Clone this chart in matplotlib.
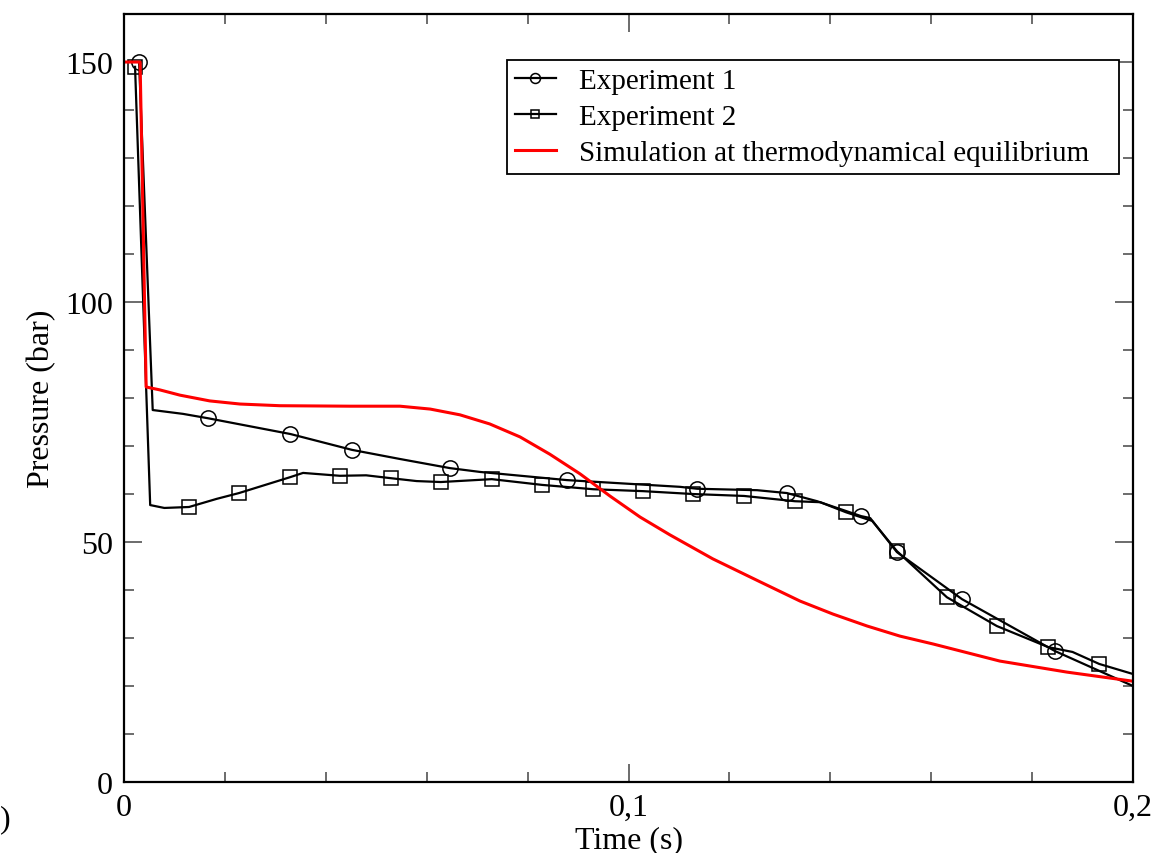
import matplotlib
matplotlib.use('Agg')
import matplotlib.pyplot as plt
from matplotlib.ticker import MultipleLocator

#experiment 1 (line points, circles drawn on a subset)
exp1_t = [0.0030, 0.0057, 0.0117, 0.0166, 0.0330, 0.0452, 0.0547, 0.0646, 0.0706,
          0.0878, 0.1102, 0.1136, 0.1255, 0.1314, 0.1374, 0.1461, 0.1479, 0.1532,
          0.1661, 0.1845, 0.2000]
exp1_p = [150.0, 77.5, 76.7, 75.8, 72.5, 69.2, 67.3, 65.4, 64.6,
          62.9, 61.5, 61.1, 60.8, 60.2, 58.5, 55.4, 55.0, 47.9,
          38.1, 27.3, 20.0]
exp1_marks = [0, 3, 4, 5, 7, 9, 11, 13, 15, 17, 18, 19]

#experiment 2 (line points, squares drawn on a subset)
exp2_t = [0.0022, 0.0052, 0.0080, 0.0129, 0.0184, 0.0228, 0.0329, 0.0355, 0.0428,
          0.0480, 0.0529, 0.0580, 0.0628, 0.0729, 0.0829, 0.0930, 0.1029, 0.1128,
          0.1229, 0.1330, 0.1380, 0.1431, 0.1483, 0.1532, 0.1631, 0.1730, 0.1832,
          0.1880, 0.1933, 0.2000]
exp2_p = [149.0, 57.7, 57.1, 57.3, 59.0, 60.2, 63.5, 64.4, 63.8,
          63.9, 63.3, 62.7, 62.5, 63.1, 61.9, 61.0, 60.6, 60.0,
          59.6, 58.5, 58.3, 56.2, 54.4, 48.1, 38.5, 32.5, 28.1,
          27.1, 24.6, 22.5]
exp2_marks = [0, 3, 5, 6, 8, 10, 12, 13, 14, 15, 16, 17, 18, 19, 21, 23, 24, 25, 26, 28]

#simulation at thermodynamical equilibrium
sim_t = [0.0, 0.0032, 0.0044, 0.0071, 0.0111, 0.0170, 0.0230, 0.0309, 0.0448,
         0.0547, 0.0607, 0.0666, 0.0725, 0.0785, 0.0844, 0.0904, 0.0963, 0.1023,
         0.1082, 0.1167, 0.1261, 0.1340, 0.1405, 0.1473, 0.1538, 0.1604, 0.1736,
         0.1869, 0.2000]
sim_p = [150.0, 150.0, 82.3, 81.7, 80.6, 79.4, 78.75, 78.4, 78.3,
         78.3, 77.7, 76.5, 74.6, 71.9, 68.3, 64.2, 59.6, 55.2,
         51.5, 46.5, 41.7, 37.7, 35.0, 32.5, 30.4, 28.75, 25.2,
         22.9, 21.0]

x_ticks = [0, 0.1, 0.2]
x_labels = ['0', '0,1', '0,2']
y_ticks = [0, 50, 100, 150]

plt.rcParams['font.family'] = ['Liberation Serif', 'DejaVu Serif']

fig = plt.figure(figsize=(11.53, 8.54), dpi=100)
ax = fig.add_axes([0.1075, 0.0831, 0.8752, 0.8993])

ax.plot(exp1_t, exp1_p, color='black', lw=1.6, marker='o', ms=11, mfc='none',
        mec='black', mew=1.1, markevery=exp1_marks, label='Experiment 1')
ax.plot(exp2_t, exp2_p, color='black', lw=1.6, marker='s', ms=9.5, mfc='none',
        mec='black', mew=1.1, markevery=exp2_marks, label='Experiment 2')
ax.plot(sim_t, sim_p, color='#ff0000', lw=2.2,
        label='Simulation at thermodynamical equilibrium   ')

ax.set_xlim(0, 0.2)
ax.set_ylim(0, 160)
ax.set_xticks(x_ticks)
ax.set_xticklabels(x_labels)
ax.set_yticks(y_ticks)
ax.xaxis.set_minor_locator(MultipleLocator(0.02))
ax.yaxis.set_minor_locator(MultipleLocator(10))
ax.tick_params(which='both', direction='in', top=True, right=True,
               labelsize=23, pad=8, color='#444444')
ax.tick_params(which='major', length=13, width=1.1)
ax.tick_params(which='minor', length=7.5, width=1.1)
for sp in ax.spines.values():
    sp.set_linewidth(1.6)

ax.set_xlabel('Time (s)', fontsize=23, labelpad=2)
ax.set_ylabel('Pressure (bar)', fontsize=23, labelpad=6)

leg = ax.legend(loc='upper left', bbox_to_anchor=(0.3796, 0.940), borderaxespad=0,
                fontsize=21, fancybox=False, edgecolor='black', framealpha=1,
                markerscale=0.65, handlelength=1.4, handletextpad=0.8,
                labelspacing=0.33, borderpad=0.27)
leg.get_frame().set_linewidth(1.3)

#leftover of a panel label at the left edge
fig.text(0.0, 0.04, ')', fontsize=23, ha='left', va='center')

fig.savefig('out.png', dpi=100)
